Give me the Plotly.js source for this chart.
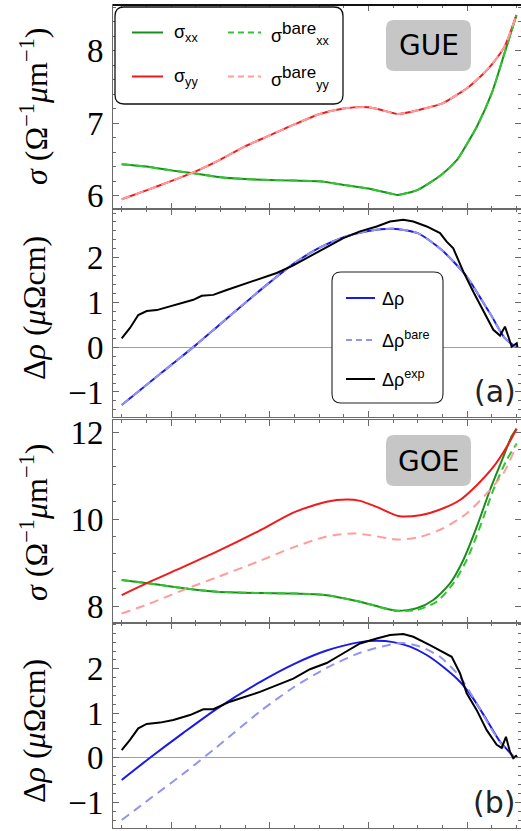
<!DOCTYPE html>
<html><head><meta charset="utf-8">
<script src="https://cdn.plot.ly/plotly-3.0.1.min.js"></script>
<style>html,body{margin:0;padding:0;background:#fff;}#chart{width:521px;height:831px;}</style>
</head><body><div id="chart"></div>
<script>
// ---------- GUE (a) : conductivities ----------
const xGUEsig = [0.5,0.75,1.0,1.25,1.5,1.75,2.0,2.25,2.5,2.75,3.0,3.25,3.3,3.5,3.75,3.9,4.0,4.1,4.25,4.38,4.5];
const sigYY_GUE     = [5.955,6.077,6.204,6.339,6.501,6.683,6.833,6.985,7.125,7.205,7.222,7.142,7.128,7.181,7.274,7.396,7.483,7.60,7.81,8.06,8.49];
const sigYYbare_GUE = [5.955,6.077,6.204,6.339,6.501,6.683,6.833,6.985,7.125,7.205,7.222,7.142,7.128,7.181,7.274,7.396,7.483,7.60,7.81,8.06,8.49];
const sigXX_GUE     = [6.437,6.404,6.352,6.308,6.257,6.232,6.218,6.211,6.201,6.152,6.101,6.025,6.014,6.084,6.303,6.50,6.719,6.956,7.415,7.968,8.49];
const sigXXbare_GUE = [6.437,6.404,6.352,6.308,6.257,6.232,6.218,6.211,6.201,6.152,6.101,6.025,6.014,6.084,6.303,6.50,6.719,6.956,7.415,7.968,8.49];

// ---------- GUE (a) : resistivity change ----------
const xGUErho = [0.5,0.75,1.0,1.25,1.5,1.75,2.0,2.25,2.5,2.75,3.0,3.25,3.5,3.75,4.0,4.13,4.25,4.38,4.5];
const drho_GUE     = [-1.29,-0.846,-0.40,0.047,0.52,0.99,1.45,1.88,2.22,2.46,2.60,2.65,2.55,2.16,1.57,1.12,0.69,0.21,0];
const drhoBare_GUE = [-1.29,-0.846,-0.40,0.047,0.52,0.99,1.45,1.88,2.22,2.46,2.60,2.65,2.55,2.16,1.57,1.12,0.69,0.21,0];
const xExpA   = [0.50,0.584,0.668,0.753,0.855,0.989,1.124,1.226,1.311,1.428,1.564,1.732,1.901,2.071,2.239,2.408,2.577,2.746,2.915,3.084,3.219,3.354,3.455,3.591,3.726,3.793,3.860,3.962,4.063,4.164,4.266,4.334,4.384,4.418,4.452,4.503,4.51];
const drhoExpA = [0.20,0.43,0.72,0.81,0.83,0.91,1.00,1.06,1.15,1.17,1.28,1.41,1.53,1.66,1.83,2.03,2.23,2.44,2.59,2.70,2.81,2.85,2.81,2.70,2.55,2.36,2.21,1.69,1.24,0.80,0.39,0.26,0.46,0.24,0.01,0.09,0.0];

// ---------- GOE (b) : conductivities ----------
const xYY_GOE  = [0.50,0.787,1.124,1.463,1.901,2.239,2.577,2.780,2.915,3.084,3.303,3.523,3.759,3.928,4.098,4.266,4.401,4.503];
const sigYY_GOE = [8.25,8.56,8.90,9.25,9.74,10.15,10.40,10.45,10.42,10.28,10.07,10.09,10.25,10.44,10.78,11.20,11.66,12.08];
const xYYb_GOE = [0.50,0.787,1.124,1.463,1.901,2.239,2.577,2.847,3.016,3.303,3.523,3.759,3.996,4.199,4.367,4.503];
const sigYYbare_GOE = [7.83,8.06,8.37,8.66,9.04,9.35,9.60,9.67,9.63,9.53,9.59,9.79,10.13,10.59,11.05,11.70];
const xXX_GOE  = [0.50,0.787,1.124,1.463,1.901,2.239,2.577,2.915,3.287,3.489,3.658,3.827,3.962,4.098,4.232,4.367,4.45,4.5];
const sigXX_GOE = [8.60,8.52,8.41,8.33,8.30,8.29,8.25,8.10,7.89,7.95,8.14,8.52,9.06,9.82,10.67,11.43,11.90,12.08];
const xXXb_GOE = [0.50,0.787,1.124,1.463,1.901,2.239,2.577,2.915,3.287,3.489,3.692,3.860,3.996,4.131,4.266,4.401,4.503];
const sigXXbare_GOE = [8.60,8.52,8.41,8.33,8.30,8.29,8.25,8.10,7.89,7.91,8.10,8.52,9.06,9.82,10.67,11.36,11.74];

// ---------- GOE (b) : resistivity change ----------
const xRho_GOE = [0.50,0.787,1.124,1.463,1.901,2.239,2.577,2.915,3.084,3.252,3.422,3.591,3.759,3.928,4.063,4.199,4.334,4.485];
const drho_GOE = [-0.50,0.0,0.56,1.10,1.70,2.10,2.41,2.60,2.63,2.60,2.50,2.31,2.04,1.71,1.33,0.85,0.36,0];
const xRhoB_GOE = [0.50,0.787,1.124,1.463,1.901,2.239,2.577,2.915,3.252,3.354,3.523,3.726,3.928,4.098,4.232,4.367,4.485];
const drhoBare_GOE = [-1.40,-0.92,-0.36,0.24,1.04,1.58,2.02,2.36,2.56,2.58,2.50,2.27,1.82,1.22,0.70,0.25,0];
const xExpB = [0.50,0.584,0.668,0.753,0.888,1.023,1.192,1.327,1.428,1.597,1.901,2.071,2.239,2.408,2.577,2.746,2.915,3.084,3.219,3.354,3.455,3.624,3.743,3.844,3.928,3.996,4.098,4.199,4.300,4.351,4.394,4.435,4.468,4.496,4.509];
const drhoExpB = [0.17,0.40,0.66,0.76,0.79,0.85,0.96,1.09,1.09,1.26,1.48,1.63,1.78,1.99,2.13,2.35,2.57,2.68,2.76,2.78,2.72,2.53,2.38,2.27,1.90,1.45,1.07,0.62,0.29,0.22,0.47,0.13,-0.01,0.04,0];

// ---------- tick labels ----------
const sigTicksA = [6,7,8];
const sigTickTextA = ['6','7','8'];
const rhoTicks = [-1,0,1,2];
const rhoTickText = ['\u22121','0','1','2'];
const sigTicksB = [8,10,12];
const sigTickTextB = ['8','10','12'];

// ---------- colours ----------
const cXX = '#188f18', cXXb = '#33c433', cYY = '#f01a1a', cYYb = '#ff9c9c';
const cR = '#1a1ae8', cRb = '#9393f2', cExp = '#000000';

const W = 521, H = 831;
const PX = v => v / W, PY = v => 1 - v / H;

function tr(x, y, color, dash, xa, ya, shape) {
  return {x: x, y: y, type: 'scatter', mode: 'lines', xaxis: xa, yaxis: ya, hoverinfo: 'skip',
    line: {color: color, width: 2, dash: dash || 'solid', shape: shape || 'spline', smoothing: 0.7}};
}

const data = [
  tr(xGUEsig, sigXX_GUE, cXX, 'solid', 'x', 'y'),
  tr(xGUEsig, sigYY_GUE, cYY, 'solid', 'x', 'y'),
  tr(xGUEsig, sigXXbare_GUE, cXXb, '9px,5px', 'x', 'y'),
  tr(xGUEsig, sigYYbare_GUE, cYYb, '9px,5px', 'x', 'y'),

  tr(xGUErho, drho_GUE, cR, 'solid', 'x2', 'y2'),
  tr(xGUErho, drhoBare_GUE, cRb, '9px,5px', 'x2', 'y2'),
  tr(xExpA, drhoExpA, cExp, 'solid', 'x2', 'y2', 'linear'),

  tr(xXX_GOE, sigXX_GOE, cXX, 'solid', 'x3', 'y3'),
  tr(xXXb_GOE, sigXXbare_GOE, cXXb, '8px,5px', 'x3', 'y3'),
  tr(xYY_GOE, sigYY_GOE, cYY, 'solid', 'x3', 'y3'),
  tr(xYYb_GOE, sigYYbare_GOE, cYYb, '9px,6px', 'x3', 'y3'),

  tr(xRho_GOE, drho_GOE, cR, 'solid', 'x4', 'y4'),
  tr(xRhoB_GOE, drhoBare_GOE, cRb, '9px,6px', 'x4', 'y4'),
  tr(xExpB, drhoExpB, cExp, 'solid', 'x4', 'y4', 'linear')
];

const frame = '#6a6a6a';
function xax(anchor) {
  return {anchor: anchor, domain: [PX(113), 1], range: [0.4118, 4.5464], showline: true, linecolor: frame, linewidth: 1,
    mirror: 'ticks', ticks: 'inside', ticklen: 6, tickwidth: 1, tickcolor: frame, dtick: 1, tick0: 0,
    showticklabels: false, showgrid: false, zeroline: false, fixedrange: true,
    minor: {dtick: 0.25, tick0: 0, ticks: 'inside', ticklen: 3, tickcolor: frame, showgrid: false}};
}
function yax(anchor, dom, range, tv, tt, minorD, zero) {
  return {anchor: anchor, domain: dom, range: range, tickvals: tv, ticktext: tt, showline: true, linecolor: frame,
    linewidth: 1, mirror: 'ticks', ticks: 'inside', ticklen: 6, tickcolor: frame, showgrid: false,
    zeroline: !!zero, zerolinecolor: '#a0a0a0', zerolinewidth: 1, fixedrange: true, ticklabelstandoff: 2,
    tickfont: {family: 'Liberation Serif', size: 33, color: '#000'},
    minor: {dtick: minorD, ticks: 'inside', ticklen: 3, tickcolor: frame, showgrid: false}};
}

function rrect(x0, y0, x1, y1, r) {
  const X = v => PX(v).toFixed(5), Y = v => PY(v).toFixed(5);
  return `M${X(x0 + r)},${Y(y0)} L${X(x1 - r)},${Y(y0)} Q${X(x1)},${Y(y0)} ${X(x1)},${Y(y0 + r)} ` +
    `L${X(x1)},${Y(y1 - r)} Q${X(x1)},${Y(y1)} ${X(x1 - r)},${Y(y1)} L${X(x0 + r)},${Y(y1)} ` +
    `Q${X(x0)},${Y(y1)} ${X(x0)},${Y(y1 - r)} L${X(x0)},${Y(y0 + r)} Q${X(x0)},${Y(y0)} ${X(x0 + r)},${Y(y0)} Z`;
}
function box(x0, y0, x1, y1, r, fill, lc, lw) {
  return {type: 'path', xref: 'paper', yref: 'paper', path: rrect(x0, y0, x1, y1, r), fillcolor: fill,
    line: {color: lc, width: lw}, layer: 'above'};
}
function seg(x0, x1, y, color, dash) {
  return {type: 'line', xref: 'paper', yref: 'paper', x0: PX(x0), x1: PX(x1), y0: PY(y), y1: PY(y),
    line: {color: color, width: 2, dash: dash || 'solid'}, layer: 'above'};
}
function ann(x, y, text, size, family, xanchor, angle, color) {
  return {xref: 'paper', yref: 'paper', x: PX(x), y: PY(y), text: text, showarrow: false,
    xanchor: xanchor || 'center', yanchor: 'middle', textangle: angle || 0,
    font: {size: size, family: family, color: color || '#000'}};
}

const shapes = [
  {type: 'line', xref: 'paper', yref: 'paper', x0: PX(113), x1: 1, y0: PY(5), y1: PY(5), line: {color: '#111', width: 2}, layer: 'above'},
  box(115, 7, 343, 104, 9, '#ffffff', '#111', 1.3),
  seg(132, 163, 32.5, cXX), seg(228, 261, 32.5, cXXb, '6px,4px'),
  seg(132, 163, 76.5, cYY), seg(228, 261, 76.5, cYYb, '6px,4px'),
  box(386, 20, 471, 71, 8, '#c6c6c6', '#c6c6c6', 0),
  box(332, 272, 443, 403, 9, '#ffffff', '#222', 1.1),
  seg(346, 375, 298, cR), seg(346, 375, 340, cRb, '6px,4px'), seg(346, 375, 379, cExp),
  box(386, 435, 471, 486, 8, '#c6c6c6', '#c6c6c6', 0)
];

const SANS = 'Liberation Sans, Arial, sans-serif';
const SERIF = 'Liberation Serif, Times New Roman, serif';
const sigTitle = '<i>σ</i> (Ω<sup>−1</sup><i>μ</i>m<sup>−1</sup>)';
const rhoTitle = 'Δ<i>ρ</i> (<i>μ</i>Ωcm)';
const annotations = [
  ann(34, 107, sigTitle, 32, SERIF, 'center', -90),
  ann(34, 308, rhoTitle, 32, SERIF, 'center', -90),
  ann(34, 523, sigTitle, 32, SERIF, 'center', -90),
  ann(34, 731, rhoTitle, 32, SERIF, 'center', -90),
  ann(172, 33, 'σ<sub>xx</sub>', 18, SANS, 'left'),
  ann(269, 33, 'σ<sup><span style="font-size:17px">bare</span></sup><sub>xx</sub>', 18, SANS, 'left'),
  ann(172, 77, 'σ<sub>yy</sub>', 18, SANS, 'left'),
  ann(269, 77, 'σ<sup><span style="font-size:17px">bare</span></sup><sub>yy</sub>', 18, SANS, 'left'),
  ann(428.5, 46, 'GUE', 28, 'DejaVu Sans', 'center'),
  ann(428.5, 461, 'GOE', 28, 'DejaVu Sans', 'center'),
  ann(380, 299, 'Δρ', 18, SANS, 'left'),
  ann(380, 339, 'Δρ<sup>bare</sup>', 18, SANS, 'left'),
  ann(380, 378, 'Δρ<sup>exp</sup>', 18, SANS, 'left'),
  ann(495, 391, '(a)', 30, 'DejaVu Sans', 'center', 0, '#222'),
  ann(494, 802, '(b)', 30, 'DejaVu Sans', 'center', 0, '#222')
];

const layout = {
  width: W, height: H, margin: {l: 0, r: 0, t: 0, b: 0, pad: 0},
  paper_bgcolor: '#ffffff', plot_bgcolor: 'rgba(0,0,0,0)', showlegend: false,
  xaxis: xax('y'), xaxis2: xax('y2'), xaxis3: xax('y3'), xaxis4: xax('y4'),
  yaxis: yax('x', [PY(209), PY(5)], [5.82, 8.63], sigTicksA, sigTickTextA, 0.2, false),
  yaxis2: yax('x2', [PY(417), PY(209)], [-1.56, 3.09], rhoTicks, rhoTickText, 0.2, true),
  yaxis3: yax('x3', [PY(623), PY(420)], [7.61, 12.28], sigTicksB, sigTickTextB, 0.4, false),
  yaxis4: yax('x4', [PY(828), PY(623)], [-1.58, 3.03], rhoTicks, rhoTickText, 0.2, true),
  shapes: shapes, annotations: annotations
};

Plotly.newPlot('chart', data, layout, {staticPlot: true, displayModeBar: false});
</script></body></html>
